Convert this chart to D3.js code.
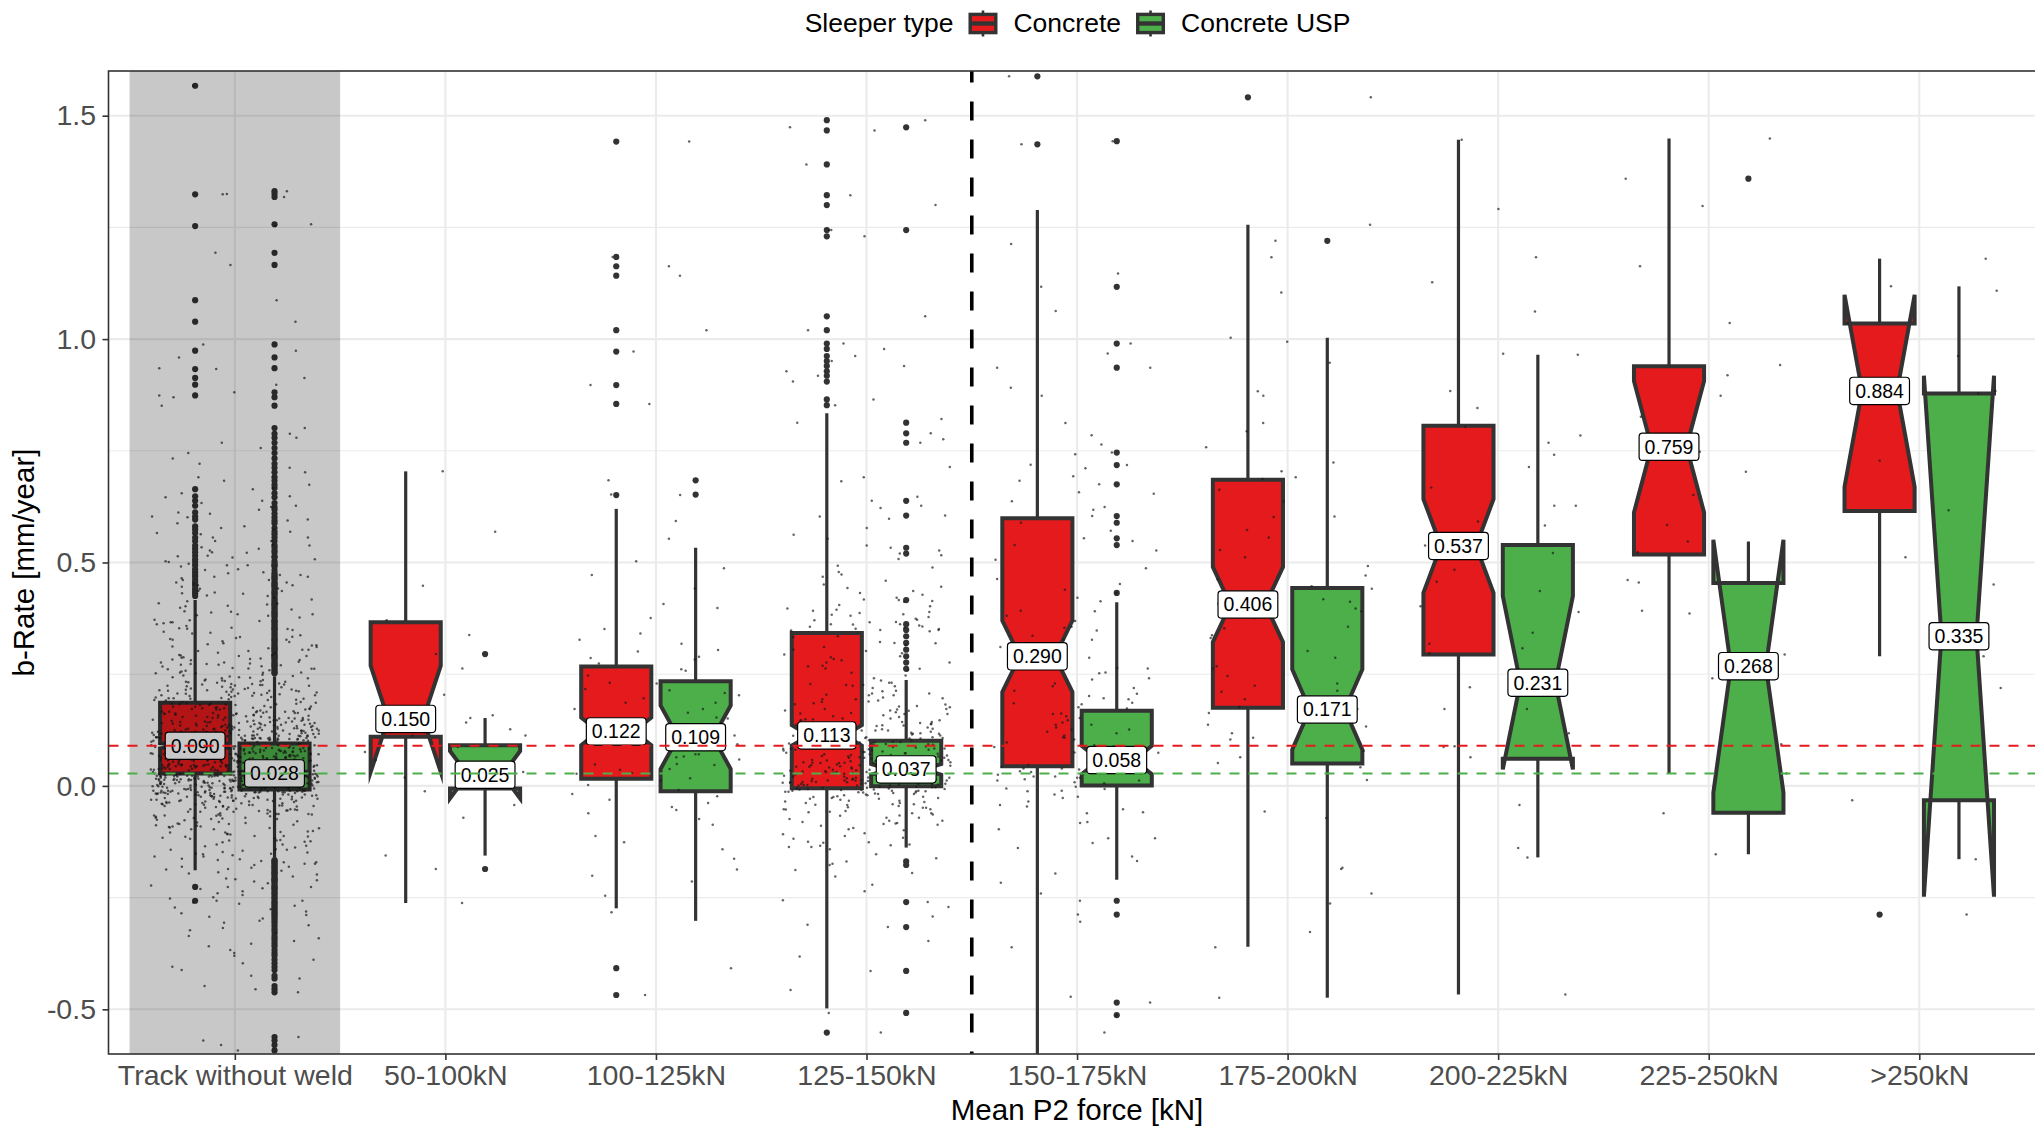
<!DOCTYPE html>
<html>
<head>
<meta charset="utf-8">
<script src="https://cdn.jsdelivr.net/npm/d3@7"></script>
<style>
  html, body { margin: 0; padding: 0; background: #ffffff; }
  svg { display: block; }
</style>
</head>
<body>
<script>
// ---- Data ---------------------------------------------------------------
const categories = ["Track without weld", "50-100kN", "100-125kN", "125-150kN",
  "150-175kN", "175-200kN", "200-225kN", "225-250kN", ">250kN"];
const sleeperTypes = ["Concrete", "Concrete USP"];

const yMajorTicks = [-0.5, 0, 0.5, 1, 1.5];
const yMinorTicks = [-0.25, 0.25, 0.75, 1.25];

// Box statistics, b-Rate [mm/year], one entry per force class
const concreteLowerWhisker = [-0.189, -0.262, -0.274, -0.498, -0.63, -0.36, -0.467, 0.028, 0.29];
const concreteLowerHinge   = [0.028, 0.110, 0.016, -0.005, 0.044, 0.175, 0.294, 0.518, 0.615];
const concreteMedian       = [0.090, 0.150, 0.122, 0.113, 0.290, 0.406, 0.537, 0.759, 0.884];
const concreteUpperHinge   = [0.186, 0.366, 0.267, 0.342, 0.599, 0.685, 0.806, 0.939, 1.035];
const concreteUpperWhisker = [0.416, 0.704, 0.620, 0.834, 1.289, 1.256, 1.446, 1.449, 1.180];
const concreteNotchLower   = [0.084, 0.031, 0.091, 0.090, 0.210, 0.322, 0.432, 0.612, 0.669];
const concreteNotchUpper   = [0.096, 0.269, 0.153, 0.136, 0.370, 0.490, 0.642, 0.906, 1.099];

const uspLowerWhisker = [-0.160, -0.156, -0.302, -0.138, -0.210, -0.474, -0.160, -0.153, -0.164];
const uspLowerHinge   = [-0.008, -0.006, -0.012, -0.001, 0.001, 0.050, 0.061, -0.060, -0.032];
const uspMedian       = [0.028, 0.025, 0.109, 0.037, 0.058, 0.171, 0.231, 0.268, 0.335];
const uspUpperHinge   = [0.095, 0.091, 0.234, 0.101, 0.168, 0.443, 0.539, 0.454, 0.878];
const uspUpperWhisker = [0.245, 0.152, 0.533, 0.237, 0.411, 1.003, 0.965, 0.547, 1.118];
const uspNotchLower   = [0.024, -0.028, 0.038, 0.025, 0.026, 0.081, 0.037, -0.015, -0.248];
const uspNotchUpper   = [0.032, 0.078, 0.180, 0.049, 0.090, 0.261, 0.425, 0.551, 0.918];

// Outliers beyond the whiskers
const concreteOutliers = [
  [1.567, 1.324, 1.253, 1.087, 1.039, 0.974, 0.933, 0.913, 0.898, 0.874, 0.664, 0.648, 0.638, 0.627,
   0.612, 0.603, 0.596, 0.581, 0.574, 0.566, 0.556, 0.548, 0.538, 0.531, 0.523, 0.515, 0.507, 0.501,
   0.494, 0.485, 0.478, 0.472, 0.468, 0.461, 0.455, 0.449, 0.442, 0.437, 0.431, 0.425, -0.226, -0.257],
  [],
  [1.442, 1.184, 1.163, 1.142, 1.020, 0.972, 0.897, 0.855, 0.651, -0.408, -0.468],
  [1.490, 1.467, 1.391, 1.322, 1.300, 1.244, 1.230, 1.051, 1.020, 0.990, 0.978, 0.962, 0.951,
   0.940, 0.928, 0.918, 0.905, 0.865, 0.852, -0.552],
  [1.588, 1.436],
  [1.541],
  [],
  [],
  [-0.288]
];
const uspOutliers = [
  [0.252, 0.254, 0.259, 0.262, 0.267, 0.270, 0.273, 0.276, 0.281, 0.285, 0.288, 0.291, 0.293,
   0.298, 0.302, 0.305, 0.308, 0.311, 0.315, 0.319, 0.324, 0.327, 0.329, 0.333, 0.337, 0.341,
   0.345, 0.349, 0.352, 0.354, 0.358, 0.362, 0.366, 0.369, 0.371, 0.377, 0.381, 0.384, 0.388,
   0.390, 0.395, 0.399, 0.403, 0.406, 0.409, 0.413, 0.417, 0.421, 0.426, 0.430, 0.433, 0.436,
   0.441, 0.446, 0.449, 0.452, 0.455, 0.461, 0.465, 0.468, 0.472, 0.476, 0.483, 0.491, 0.494,
   0.497, 0.503, 0.511, 0.514, 0.522, 0.527, 0.534, 0.539, 0.548, 0.556, 0.563, 0.569, 0.577,
   0.588, 0.594, 0.601, 0.609, 0.618, 0.624, 0.633, 0.646, 0.655, 0.667, 0.674,
   0.683, 0.691, 0.702, 0.712, 0.721, 0.733, 0.745, 0.756, 0.768, 0.779, 0.788, 0.801, 0.851,
   0.870, 0.881, 0.935, 0.959, 0.988, 1.166, 1.193, 1.257, 1.318, 1.325, 1.331,
   -0.166, -0.168, -0.171, -0.174, -0.177, -0.181, -0.183, -0.186, -0.190, -0.193, -0.196,
   -0.198, -0.203, -0.207, -0.209, -0.211, -0.214, -0.218, -0.223, -0.226, -0.229, -0.231,
   -0.236, -0.240, -0.244, -0.249, -0.252, -0.257, -0.261, -0.264, -0.268, -0.272, -0.276,
   -0.281, -0.285, -0.289, -0.293, -0.297, -0.302, -0.306, -0.312, -0.318, -0.323, -0.329,
   -0.336, -0.341, -0.347, -0.353, -0.359, -0.367, -0.374, -0.380, -0.389, -0.397, -0.405,
   -0.412, -0.425, -0.431, -0.448, -0.455, -0.462, -0.562, -0.570, -0.580, -0.592],
  [0.295, -0.186],
  [0.684, 0.652],
  [1.474, 1.244, 0.813, 0.789, 0.768, 0.638, 0.605, 0.533, 0.520, 0.416, 0.362, 0.349, 0.335,
   0.320, 0.305, 0.290, 0.276, 0.262, -0.169, -0.177, -0.260, -0.316, -0.414, -0.508],
  [1.443, 1.117, 0.990, 0.936, 0.746, 0.718, 0.675, 0.604, 0.589, 0.554, 0.539, 0.432,
   -0.257, -0.288, -0.485, -0.513],
  [1.220],
  [],
  [1.359],
  []
];

// Individual measurements inside the whiskers (shown as jittered dots)
const concretePoints = [
  [-.023,.052,.121,.224,.014,.073,.153,.271,-.082,.041,.104,.203,.026,.084,.172,.334,-.131,.063,.112,.247,
   -.044,.036,.143,.212,.005,.091,.162,.293,-.113,.057,.134,.196,.021,.067,.181,.382,-.062,.079,.101,.236,
   .012,.046,.117,.262,-.152,.071,.175,.205,-.031,.054,.146,.314,.024,.088,.125,.227,-.094,.033,.163,.254,
   -.014,.061,.098,.191,-.181,.082,.137,.353,.003,.044,.152,.214,-.052,.076,.184,.282,.019,.058,.114,.243,
   -.071,.049,.166,.231,.011,.035,.126,.207,-.124,.093,.141,.302,-.024,.064,.107,.264,.027,.081,.178,.216,
   -.103,.043,.115,.226,.002,.074,.183,.408,-.035,.053,.133,.194,-.163,.086,.155,.276,.016,.062,.122,.238,
   .022,.089,.144,.201,-.064,.038,.103,.322,-.012,.066,.171,.252,-.142,.047,.124,.221,.006,.072,.164,.291,
   -.043,.083,.136,.213,-.174,.055,.118,.245,.013,.077,.185,.364,-.085,.042,.154,.198,.025,.068,.106,.273,
   -.026,.034,.127,.233,.004,.094,.161,.206,-.116,.063,.142,.343,-.054,.051,.113,.225,.017,.085,.176,.261,
   -.092,.075,.157,.192,.021,.045,.102,.284,-.033,.087,.138,.217,-.135,.065,.182,.391,.008,.056,.123,.241,
   .015,.067,.116,.253,-.073,.092,.147,.204,-.187,.037,.165,.305,-.011,.078,.108,.228,.026,.048,.131,.211,
   -.055,.052,.173,.237,.001,.083,.128,.274,-.104,.061,.151,.195,-.021,.031,.112,.331,-.153,.095,.145,.246,
   .024,.042,.134,.202,-.045,.073,.186,.263,-.122,.057,.104,.223,.012,.084,.167,.372,-.063,.066,.125,.214,
   -.034,.091,.141,.292,-.164,.039,.117,.208,.005,.071,.174,.234,-.083,.054,.132,.312,.018,.047,.156,.199,
   -.015,.064,.109,.256,-.112,.081,.163,.215,.023,.043,.121,.283,-.066,.076,.181,.402,-.143,.058,.148,.226,
   -.041,.047,.128,.216,.009,.079,.159,.297,-.097,.035,.111,.232,.016,.069,.177,.351,-.121,.058,.139,.209,
   .003,.087,.106,.268,-.058,.041,.148,.219,-.149,.072,.119,.327,.025,.053,.169,.203,-.018,.094,.136,.258,
   -.076,.062,.184,.242,.014,.032,.124,.287,-.029,.088,.158,.197,-.108,.045,.101,.366,.007,.071,.143,.222,
   -.051,.056,.113,.271,-.171,.085,.175,.213,.019,.039,.135,.249,-.007,.068,.161,.317,-.126,.049,.105,.235,
   .011,.078,.152,.207,-.089,.034,.118,.384,-.036,.092,.179,.229,-.158,.059,.129,.278,.021,.046,.166,.193],
  [-.262,-.043,.076,.113,.127,.142,.158,.204,.263,.338,.371,.448,.569,.704],
  [-.061,.048,.153,.318,-.187,.093,.214,.442,.002,.071,.186,.289,-.112,.036,.247,.553,
   -.023,.104,.172,.376,-.246,.059,.231,.301,-.087,.017,.141,.487,-.009,.084,.203,.274,
   -.142,.029,.196,.341,-.038,.113,.258,.593,-.201,.066,.164,.283,-.054,.047,.135,.407],
  [-.043,.021,.156,.412,-.118,.067,.241,.367,-.012,.094,.127,.538,-.236,.008,.302,.451,
   -.071,.035,.183,.389,-.009,.102,.134,.622,-.162,.053,.276,.356,-.027,.011,.219,.473,
   -.094,.076,.147,.349,-.038,.002,.322,.508,-.311,.043,.194,.397,-.015,.088,.165,.714,
   -.056,.029,.263,.378,-.142,.061,.118,.436,-.007,.097,.207,.562,-.203,.016,.288,.361,
   -.021,.083,.139,.421,-.084,.048,.231,.647,-.382,.005,.172,.354,-.049,.071,.315,.489,
   -.126,.039,.253,.372,-.018,.109,.143,.405,-.064,.024,.196,.776,-.271,.058,.121,.352,
   -.033,.091,.178,.527,-.174,.013,.294,.383,-.011,.066,.226,.443,-.457,.031,.151,.598,
   -.078,.051,.132,.362,-.029,.104,.269,.691,-.108,.019,.161,.394,-.053,.079,.212,.417,
   -.195,.007,.333,.459,-.014,.062,.188,.371,-.087,.099,.128,.577,-.041,.036,.247,.348,
   -.061,.084,.204,.432,-.256,.045,.117,.359,-.023,.012,.281,.821,-.133,.073,.169,.384,
   -.048,.026,.149,.402,-.134,.057,.236,.374,-.016,.087,.124,.516,-.221,.009,.297,.446,
   -.066,.041,.179,.387,-.003,.106,.131,.603,-.153,.052,.268,.351,-.031,.014,.223,.468,
   -.099,.072,.141,.346,-.042,.001,.319,.493,-.292,.038,.191,.392,-.019,.091,.162,.682,
   -.059,.033,.259,.381,-.137,.063,.115,.428,-.008,.095,.203,.553,-.188,.018,.284,.366,
   -.025,.081,.137,.414,-.081,.046,.228,.627,-.347,.004,.168,.357,-.052,.069,.311,.479],
  [-.128,.087,.336,.683,.012,.173,.452,.891,-.304,.241,.381,.742,-.046,.118,.527,1.063,
   .021,.206,.318,.624,-.217,.065,.487,.968,-.011,.152,.413,.711,-.472,.263,.354,.812,
   -.083,.109,.571,.657,.031,.223,.302,1.147,-.158,.074,.439,.764,.006,.185,.392,.637,
   -.361,.137,.348,.873,-.027,.254,.506,.693,.039,.091,.421,1.213,-.241,.196,.327,.618,
   -.059,.162,.463,.785,-.552,.058,.369,.654,.018,.277,.548,.936,-.117,.126,.311,.719],
  [-.361,.042,.194,.287,.353,.418,.492,.573,.691,.812,.947,1.256,
   -.183,.108,.176,.246,.331,.397,.447,.528,.637,.724,.873,1.104,
   -.057,.137,.213,.268,.376,.412,.471,.602,.663,.758,.994,1.183,
   -.263,.163,.229,.391,.556,.704],
  [-.467,-.139,.087,.221,.297,.343,.389,.436,.484,.521,.549,.583,.627,.668,.714,.768,
   .803,.884,.967,1.062,1.183,1.291,1.446,.172,.318,.457,.592,.741,.846,1.127],
  [.028,.247,.386,.523,.584,.651,.703,.748,.772,.826,.873,.919,.942,1.036,1.163,1.298,1.449,.461],
  [.29,.512,.617,.728,.884,.962,1.036,1.108,1.18]
];
const uspPoints = [
  [-.034,.004,.046,.118,-.012,.017,.072,.153,-.087,-.003,.039,.104,-.021,.025,.061,.187,-.056,.009,.088,.131,
   -.009,.012,.057,.099,-.143,.021,.034,.142,-.028,-.006,.081,.116,-.047,.027,.049,.228,-.015,.002,.066,.108,
   -.068,.019,.042,.124,-.011,.007,.093,.167,-.032,-.002,.055,.102,-.104,.023,.037,.137,-.019,.014,.076,.211,
   -.041,.001,.063,.111,-.013,.026,.045,.097,-.122,.011,.084,.148,-.025,-.007,.031,.176,-.074,.018,.069,.121,
   -.016,.022,.051,.106,-.058,.006,.091,.134,-.038,.015,.035,.236,-.011,-.004,.073,.113,-.155,.024,.058,.162,
   -.022,.009,.041,.127,-.095,.019,.067,.101,-.014,.003,.086,.152,-.044,.027,.047,.119,-.031,-.005,.062,.195,
   -.063,.013,.078,.109,-.018,.021,.038,.143,-.112,.005,.054,.098,-.026,.016,.094,.171,-.009,-.001,.043,.125,
   -.036,.025,.059,.132,-.081,.008,.071,.105,-.012,.017,.033,.204,-.052,-.006,.082,.117,-.134,.023,.049,.148,
   -.017,.002,.044,.112,-.046,.026,.064,.158,-.027,.012,.089,.103,-.091,.019,.036,.138,-.013,-.003,.075,.243,
   -.072,.014,.052,.121,-.019,.007,.039,.099,-.039,.022,.083,.184,-.011,-.008,.057,.128,-.148,.027,.068,.107,
   -.029,.018,.035,.146,-.066,.004,.092,.114,-.014,.024,.048,.163,-.101,-.002,.061,.102,-.023,.011,.077,.218,
   -.055,.021,.079,.108,-.017,.013,.042,.135,-.084,.001,.066,.122,-.033,.026,.034,.157,-.012,.008,.087,.104,
   -.042,.006,.053,.192,-.125,.016,.073,.116,-.021,.023,.038,.101,-.061,-.005,.094,.141,-.010,.019,.046,.129,
   -.035,.027,.062,.105,-.015,.003,.085,.174,-.077,.012,.044,.119,-.158,.021,.056,.233,-.024,-.007,.071,.111,
   -.011,.015,.036,.139,-.049,.025,.081,.103,-.093,.009,.059,.166,-.018,-.004,.047,.124,-.037,.022,.068,.113,
   -.064,.005,.074,.117,-.013,.018,.043,.201,-.027,.026,.091,.106,-.117,.002,.052,.144,-.045,.014,.037,.131,
   -.020,.024,.065,.109,-.088,.010,.033,.158,-.014,-.006,.078,.122,-.053,.017,.048,.181,-.030,.007,.086,.102,
   -.107,.013,.045,.136,-.016,.028,.069,.114,-.040,.001,.094,.153,-.024,.020,.039,.107,-.069,-.003,.058,.224,
   -.026,.008,.049,.114,-.071,.019,.067,.139,-.011,.002,.085,.172,-.118,.024,.041,.103,-.038,-.005,.062,.208,
   -.052,.015,.077,.125,-.014,.027,.035,.154,-.097,.006,.056,.109,-.021,-.002,.091,.188,-.063,.013,.044,.118,
   -.009,.021,.058,.133,-.145,.004,.072,.101,-.033,.018,.039,.162,-.048,-.007,.083,.227,-.017,.026,.051,.112,
   -.079,.011,.064,.147,-.023,.023,.046,.106,-.012,-.004,.093,.178,-.109,.016,.037,.121,-.043,.009,.071,.137,
   -.031,.001,.087,.104,-.058,.025,.053,.196,-.016,.012,.066,.128,-.138,-.001,.042,.159,-.027,.022,.079,.115,
   -.066,.017,.038,.141,-.013,.005,.075,.108,-.085,.028,.061,.213,-.039,-.006,.048,.126,-.152,.014,.089,.102,
   -.019,.024,.069,.166,-.046,.003,.044,.119,-.024,.019,.081,.105,-.102,.007,.055,.241,-.011,-.003,.036,.134,
   -.057,.012,.092,.111,-.029,.026,.047,.151,-.131,.002,.063,.123,-.015,.021,.074,.183,-.074,-.008,.041,.107,
   -.036,.006,.057,.128,-.091,.018,.084,.144,-.018,.027,.034,.101,-.054,-.004,.068,.199,-.022,.011,.052,.117,
   -.013,.022,.076,.109,-.067,.009,.045,.171,-.114,.015,.088,.132,-.034,-.002,.059,.221,-.045,.025,.039,.103],
  [-.156,-.071,-.012,.004,.019,.031,.058,.087,.112,.152],
  [-.074,.038,.151,.327,-.214,.081,.186,.472,-.031,.012,.217,.286,-.126,.064,.139,.398,
   -.047,.027,.172,.261,-.283,.093,.208,.351,-.018,.049,.127,.503,-.163,.071,.229,.304],
  [-.021,.012,.054,.118,-.067,.029,.073,.163,-.006,.004,.088,.134,-.112,.021,.046,.207,
   -.038,.017,.061,.109,-.004,.033,.092,.189,-.089,.008,.043,.126,-.015,.025,.079,.231,
   -.052,.002,.068,.143,-.011,.031,.049,.112,-.131,.014,.095,.176,-.027,.022,.057,.104,
   -.009,.019,.083,.154,-.074,.006,.041,.121,-.033,.035,.066,.198,-.003,.011,.052,.138,
   -.097,.026,.047,.107,-.018,.001,.087,.147,-.045,.015,.059,.224,-.008,.032,.071,.117,
   -.058,.009,.076,.169,-.125,.023,.044,.128,-.013,.036,.098,.102,-.029,.004,.063,.182,
   -.002,.018,.051,.136,-.083,.027,.082,.113,-.041,.007,.039,.213,-.106,.034,.069,.149,
   -.024,.013,.093,.124,-.061,.003,.058,.171,-.007,.029,.045,.106,-.137,.016,.077,.158,
   -.017,.014,.056,.115,-.071,.026,.074,.161,-.005,.003,.086,.131,-.116,.023,.048,.203,
   -.035,.019,.063,.107,-.002,.031,.094,.185,-.085,.009,.041,.124,-.012,.027,.081,.226,
   -.049,.001,.066,.146,-.013,.034,.051,.109,-.127,.012,.097,.172,-.025,.021,.055,.102,
   -.011,.016,.084,.151,-.078,.005,.043,.119,-.036,.033,.064,.194,-.004,.012,.053,.135],
  [-.043,.021,.083,.213,-.117,.037,.104,.264,-.006,.049,.142,.186,-.168,.012,.121,.327,
   -.024,.054,.097,.238,-.081,.028,.131,.176,-.002,.043,.156,.391,-.139,.015,.075,.201,
   -.061,.033,.113,.287,-.012,.056,.089,.194,-.196,.008,.147,.229,-.035,.047,.126,.356,
   -.097,.018,.068,.252,-.019,.039,.161,.183,-.052,.025,.108,.309,-.007,.052,.137,.219],
  [-.474,-.327,-.186,-.072,.013,.051,.078,.104,.133,.157,.172,.189,.224,.263,.302,.356,
   .408,.441,.512,.603,.687,.794,.883,1.003,-.241,.064,.118,.211,.337,.462],
  [-.16,-.043,.064,.118,.172,.226,.241,.308,.402,.538,.627,.784,.965,.089],
  [-.153,-.061,.093,.241,.294,.392,.455,.547],
  [-.164,-.032,.219,.451,.878,1.118]
];

// ---- Layout -------------------------------------------------------------
const W = 2035, H = 1127;
const panel = { left: 108.5, right: 2045.6, top: 71, bottom: 1054 };
const fontFamily = "'Liberation Sans', Arial, Helvetica, sans-serif";
const fills = ["#E41A1C", "#4DAF4A"];
const ink = "#333333";

const svg = d3.select("body").append("svg")
  .attr("width", W).attr("height", H)
  .style("font-family", fontFamily);

svg.append("rect").attr("width", W).attr("height", H).attr("fill", "#ffffff");

const x = d3.scalePoint().domain(categories).range([panel.left, panel.right]).padding(0.6);
const step = x.step();
const y = d3.scaleLinear().domain([-0.6, 1.6]).range([panel.bottom, panel.top]);

svg.append("defs").append("clipPath").attr("id", "panel-clip")
  .append("rect")
  .attr("x", panel.left).attr("y", panel.top)
  .attr("width", panel.right - panel.left).attr("height", panel.bottom - panel.top);

const plot = svg.append("g").attr("clip-path", "url(#panel-clip)");

// ---- Grid ---------------------------------------------------------------
plot.append("g").selectAll("line").data(yMinorTicks).join("line")
  .attr("x1", panel.left).attr("x2", panel.right)
  .attr("y1", d => y(d)).attr("y2", d => y(d))
  .attr("stroke", "#EBEBEB").attr("stroke-width", 1.1);
plot.append("g").selectAll("line").data(yMajorTicks).join("line")
  .attr("x1", panel.left).attr("x2", panel.right)
  .attr("y1", d => y(d)).attr("y2", d => y(d))
  .attr("stroke", "#EBEBEB").attr("stroke-width", 2.1);
plot.append("g").selectAll("line").data(categories).join("line")
  .attr("x1", d => x(d)).attr("x2", d => x(d))
  .attr("y1", panel.top).attr("y2", panel.bottom)
  .attr("stroke", "#EBEBEB").attr("stroke-width", 2.1);

// ---- Boxes ----------------------------------------------------------------
const stats = [
  { lw: concreteLowerWhisker, q1: concreteLowerHinge, med: concreteMedian, q3: concreteUpperHinge,
    uw: concreteUpperWhisker, nlo: concreteNotchLower, nhi: concreteNotchUpper, out: concreteOutliers,
    pts: concretePoints },
  { lw: uspLowerWhisker, q1: uspLowerHinge, med: uspMedian, q3: uspUpperHinge,
    uw: uspUpperWhisker, nlo: uspNotchLower, nhi: uspNotchUpper, out: uspOutliers,
    pts: uspPoints }
];
const dodge = [-0.1885, 0.1885];
const boxHalf = 0.1665 * step;
const notchIndent = boxHalf * 0.5;

const boxes = [];
categories.forEach((cat, i) => {
  sleeperTypes.forEach((type, t) => {
    const s = stats[t];
    boxes.push({
      cat, i, t, type,
      xc: x(cat) + dodge[t] * step,
      lw: s.lw[i], q1: s.q1[i], med: s.med[i], q3: s.q3[i], uw: s.uw[i],
      nlo: s.nlo[i], nhi: s.nhi[i], out: s.out[i]
    });
  });
});

const boxLayer = plot.append("g");
// whiskers
boxLayer.selectAll("line.whisker-up").data(boxes).join("line")
  .attr("x1", d => d.xc).attr("x2", d => d.xc)
  .attr("y1", d => y(d.q3)).attr("y2", d => y(d.uw))
  .attr("stroke", ink).attr("stroke-width", 3.2);
boxLayer.selectAll("line.whisker-down").data(boxes).join("line")
  .attr("x1", d => d.xc).attr("x2", d => d.xc)
  .attr("y1", d => y(d.q1)).attr("y2", d => y(d.lw))
  .attr("stroke", ink).attr("stroke-width", 3.2);

// notched body
function notchPath(d) {
  const x0 = d.xc - boxHalf, x1 = d.xc + boxHalf;
  const p = d3.path();
  p.moveTo(x0, y(d.q3));
  p.lineTo(x0, y(d.nhi));
  p.lineTo(x0 + notchIndent, y(d.med));
  p.lineTo(x0, y(d.nlo));
  p.lineTo(x0, y(d.q1));
  p.lineTo(x1, y(d.q1));
  p.lineTo(x1, y(d.nlo));
  p.lineTo(x1 - notchIndent, y(d.med));
  p.lineTo(x1, y(d.nhi));
  p.lineTo(x1, y(d.q3));
  p.closePath();
  return p.toString();
}
boxLayer.selectAll("path.box").data(boxes).join("path")
  .attr("d", notchPath)
  .attr("fill", d => fills[d.t])
  .attr("stroke", ink).attr("stroke-width", 4)
  .attr("stroke-linejoin", "miter").attr("stroke-miterlimit", 10);
boxLayer.selectAll("line.median").data(boxes).join("line")
  .attr("x1", d => d.xc - boxHalf + notchIndent).attr("x2", d => d.xc + boxHalf - notchIndent)
  .attr("y1", d => y(d.med)).attr("y2", d => y(d.med))
  .attr("stroke", ink).attr("stroke-width", 4);

// outliers
const outliers = boxes.flatMap(d => d.out.map(v => ({ xc: d.xc, v })));
boxLayer.selectAll("circle").data(outliers).join("circle")
  .attr("cx", d => d.xc).attr("cy", d => y(d.v)).attr("r", 3.1)
  .attr("fill", ink);

// ---- Jittered measurements -----------------------------------------------
function hash01(n) {
  let h = Math.imul(n ^ 0x9e3779b9, 0x85ebca6b);
  h ^= h >>> 13;
  h = Math.imul(h, 0xc2b2ae35);
  h ^= h >>> 16;
  return (h >>> 0) / 4294967296;
}
const jitter = [];
categories.forEach((cat, i) => {
  sleeperTypes.forEach((type, t) => {
    const vals = stats[t].pts[i].concat(stats[t].out[i]);
    vals.forEach((v, k) => {
      const u = hash01(i * 100003 + t * 50021 + k * 7919 + 17);
      jitter.push({ x: x(cat) + (u * 2 - 1) * 0.4 * step, v });
    });
  });
});
plot.append("g").selectAll("circle").data(jitter).join("circle")
  .attr("cx", d => d.x).attr("cy", d => y(d.v)).attr("r", 1.25)
  .attr("fill", "#1a1a1a").attr("fill-opacity", 0.68);

// ---- Median labels ----------------------------------------------------------
const fmt3 = d3.format(".3f");
const labelSize = 19.5;
const labels = plot.append("g").selectAll("g").data(boxes).join("g")
  .attr("transform", d => `translate(${d.xc},${y(d.med)})`);
labels.each(function (d) {
  const g = d3.select(this);
  const rect = g.append("rect");
  const txt = g.append("text")
    .attr("text-anchor", "middle")
    .attr("y", labelSize * 0.35)
    .attr("font-size", labelSize)
    .attr("fill", "#000")
    .text(fmt3(d.med));
  const w = txt.node().getComputedTextLength() + 11;
  const h = 27.3;
  rect.attr("x", -w / 2).attr("y", -h / 2).attr("width", w).attr("height", h)
    .attr("rx", 3.5).attr("ry", 3.5)
    .attr("fill", "#ffffff").attr("stroke", "#000").attr("stroke-width", 1.2);
});

// ---- Shaded reference class -------------------------------------------------
plot.append("rect")
  .attr("x", x(categories[0]) - step / 2).attr("width", step)
  .attr("y", panel.top).attr("height", panel.bottom - panel.top)
  .attr("fill", "#000").attr("fill-opacity", 0.216);

// ---- Reference lines: medians of the track without weld ---------------------
plot.append("g").selectAll("line").data(sleeperTypes).join("line")
  .attr("x1", panel.left).attr("x2", panel.right)
  .attr("y1", (d, t) => y(stats[t].med[0])).attr("y2", (d, t) => y(stats[t].med[0]))
  .attr("stroke", (d, t) => fills[t]).attr("stroke-width", 2)
  .attr("stroke-dasharray", "10,9");

// separator between the lower and upper force classes
const sepX = (x(categories[3]) + x(categories[4])) / 2;
plot.append("line")
  .attr("x1", sepX).attr("x2", sepX)
  .attr("y1", panel.top).attr("y2", panel.bottom)
  .attr("stroke", "#000").attr("stroke-width", 3.6)
  .attr("stroke-dasharray", "19,19").attr("stroke-dashoffset", 7.6);

// ---- Panel border & axes ---------------------------------------------------
svg.append("rect")
  .attr("x", panel.left).attr("y", panel.top)
  .attr("width", panel.right - panel.left).attr("height", panel.bottom - panel.top)
  .attr("fill", "none").attr("stroke", ink).attr("stroke-width", 1.6);

const tickFont = 28.5;
const yAxis = svg.append("g").attr("transform", `translate(${panel.left},0)`)
  .call(d3.axisLeft(y).tickValues(yMajorTicks).tickFormat(d => d.toFixed(1))
    .tickSize(6).tickPadding(6.5));
const xAxis = svg.append("g").attr("transform", `translate(0,${panel.bottom})`)
  .call(d3.axisBottom(x).tickSize(6).tickPadding(5));
[xAxis, yAxis].forEach(a => {
  a.select(".domain").remove();
  a.selectAll(".tick line").attr("stroke", ink).attr("stroke-width", 1.6);
  a.selectAll(".tick text").attr("fill", "#4D4D4D").attr("font-size", tickFont)
    .attr("font-family", fontFamily);
});

const panelMidX = (panel.left + panel.right) / 2;
svg.append("text")
  .attr("x", panelMidX).attr("y", 1120)
  .attr("text-anchor", "middle").attr("font-size", 29.5).attr("fill", "#000")
  .text("Mean P2 force [kN]");
svg.append("text")
  .attr("transform", `translate(34,${(panel.top + panel.bottom) / 2}) rotate(-90)`)
  .attr("text-anchor", "middle").attr("font-size", 29.5).attr("fill", "#000")
  .text("b-Rate [mm/year]");

// ---- Legend ----------------------------------------------------------------
const legendFont = 26.5;
const legend = svg.append("g");
const baseY = 32;
const title = legend.append("text").attr("y", baseY).attr("font-size", legendFont)
  .attr("fill", "#000").text("Sleeper type");
const itemTexts = sleeperTypes.map(s => legend.append("text").attr("y", baseY)
  .attr("font-size", legendFont).attr("fill", "#000").text(s));
const titleW = title.node().getComputedTextLength();
const itemW = itemTexts.map(t => t.node().getComputedTextLength());
const keyW = 29, gapBefore = 15, gapAfter = 16;
const total = titleW + sleeperTypes.length * (gapBefore + keyW + gapAfter) + d3.sum(itemW) - 1;
let cx = panelMidX - total / 2;
title.attr("x", cx);
cx += titleW;
sleeperTypes.forEach((s, t) => {
  cx += gapBefore;
  const k = legend.append("g").attr("transform", `translate(${cx},0)`);
  k.append("line").attr("x1", keyW / 2).attr("x2", keyW / 2).attr("y1", 10.5).attr("y2", 36.5)
    .attr("stroke", ink).attr("stroke-width", 2.6);
  k.append("rect").attr("x", 1.7).attr("y", 14.4).attr("width", keyW - 3.4).attr("height", 18.2)
    .attr("fill", fills[t]).attr("stroke", ink).attr("stroke-width", 3.4);
  k.append("line").attr("x1", 1.7).attr("x2", keyW - 1.7).attr("y1", 23.5).attr("y2", 23.5)
    .attr("stroke", ink).attr("stroke-width", 4.4);
  cx += keyW + gapAfter;
  itemTexts[t].attr("x", cx);
  cx += itemW[t];
});
</script>
</body>
</html>
